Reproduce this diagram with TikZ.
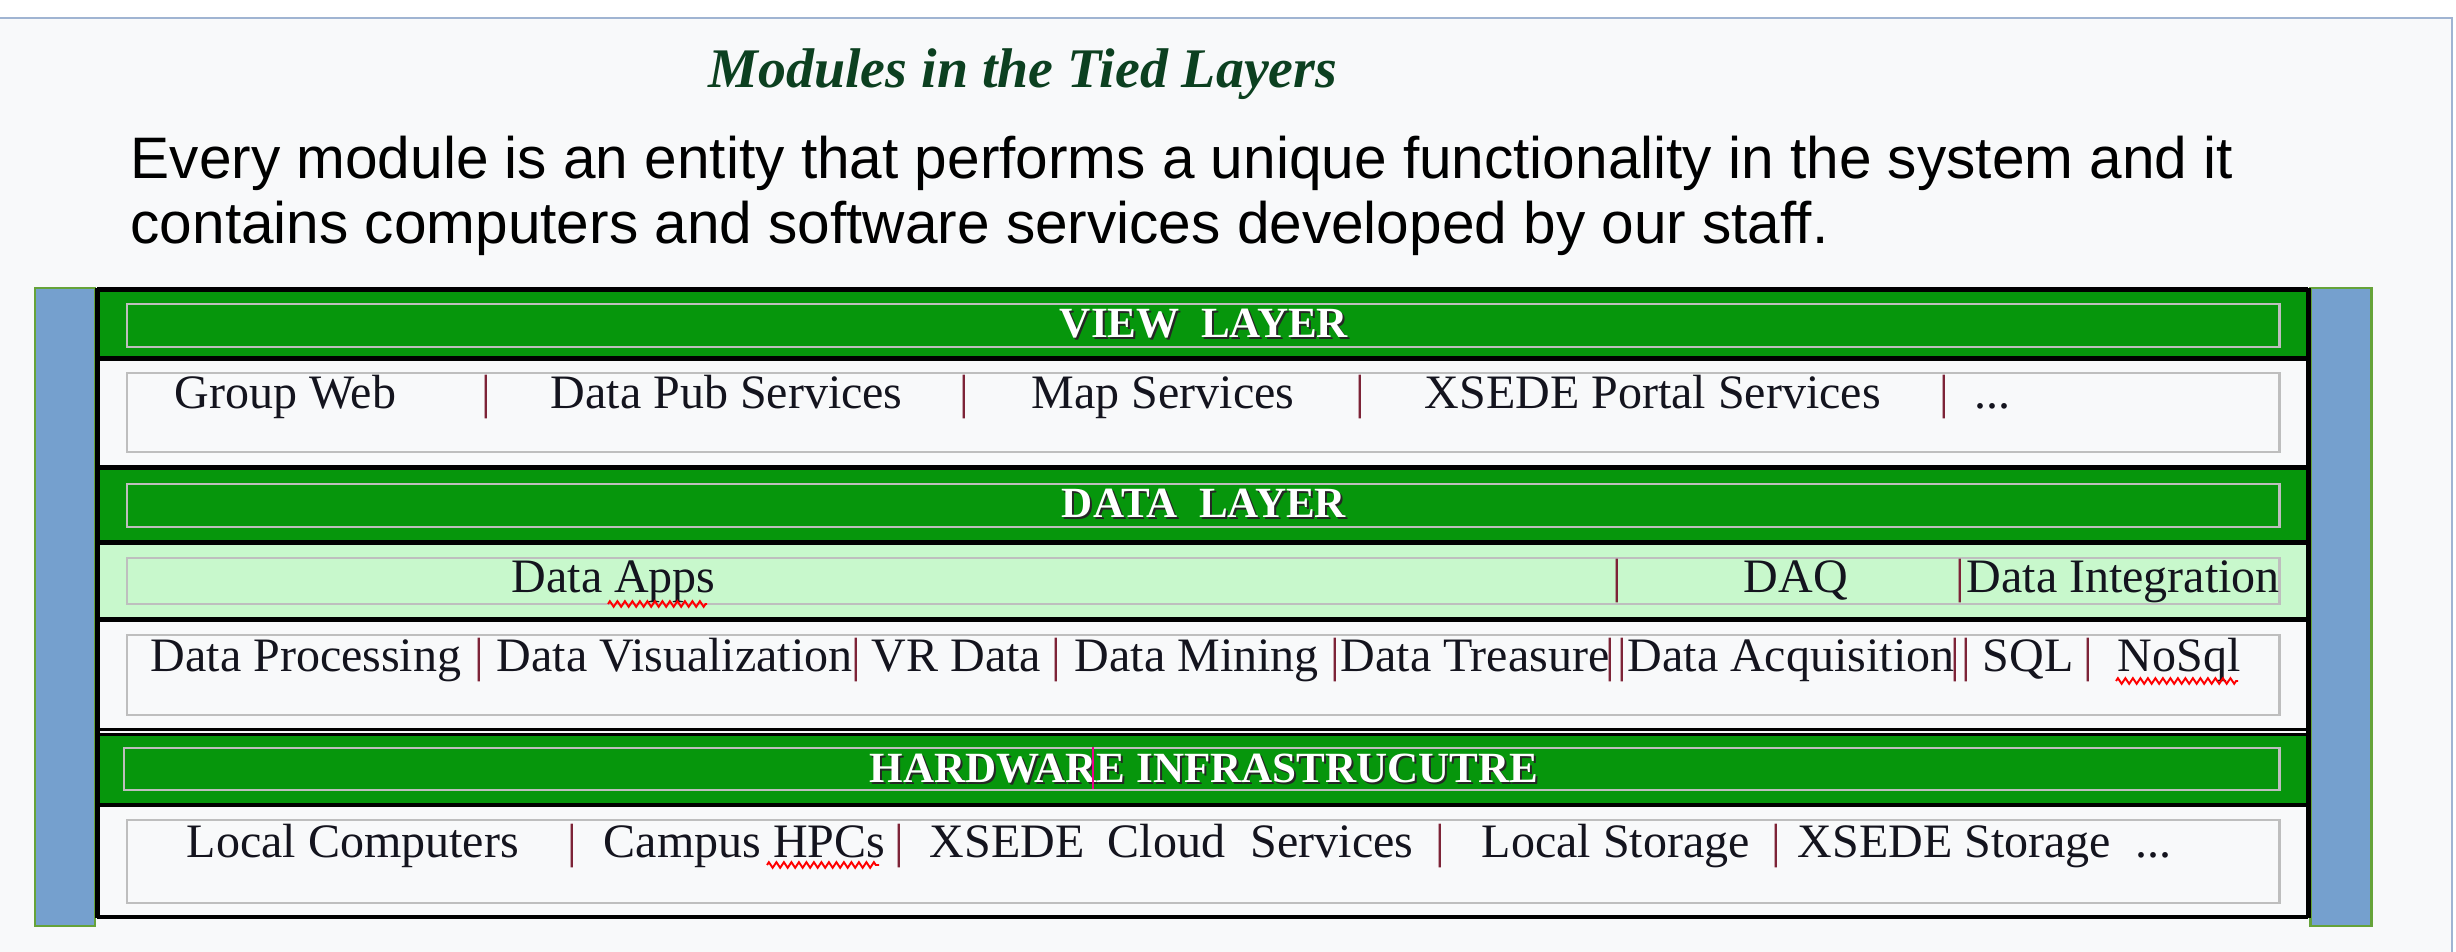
\documentclass[tikz,border=0pt]{standalone}
\usepackage{fontspec}
\setmainfont{Liberation Serif}
\newfontfamily\bodysans{Liberation Sans}
\usetikzlibrary{decorations.pathmorphing}

\definecolor{pagebg}{RGB}{248,249,250}
\definecolor{frameline}{RGB}{160,180,210}
\definecolor{laygreen}{RGB}{6,150,12}
\definecolor{appgreen}{RGB}{200,248,204}
\definecolor{barblue}{RGB}{117,160,206}
\definecolor{baredge}{RGB}{102,163,57}
\definecolor{cellframe}{RGB}{190,190,190}
\definecolor{titlegreen}{RGB}{12,64,32}
\definecolor{sepred}{RGB}{125,35,55}
\definecolor{inkdark}{RGB}{20,20,30}

\tikzset{
  celltext/.style={font=\fontsize{13.65pt}{15pt}\selectfont, text=inkdark, inner sep=0pt, anchor=base west},
  sepbar/.style={font=\fontsize{13.65pt}{15pt}\selectfont, text=sepred, inner sep=0pt, anchor=base},
  hdrtext/.style={font=\bfseries\fontsize{12.25pt}{14pt}\selectfont, text=white, inner sep=0pt, anchor=base},
  hdrshadow/.style={font=\bfseries\fontsize{12.25pt}{14pt}\selectfont, text=black!85, inner sep=0pt, anchor=base},
  cellframe/.style={draw=cellframe, line width=0.85pt},
  blackrule/.style={draw=black, line width=1.4pt},
  sidebar/.style={fill=barblue, draw=baredge, line width=0.85pt},
  spellmark/.style={draw=red, line width=0.55pt, decorate,
    decoration={zigzag, amplitude=0.28mm, segment length=0.75mm}},
}

\begin{document}
\begin{tikzpicture}[x=0.01cm, y=-0.01cm]
\useasboundingbox (0,0) rectangle (2456,952);
\fill[white] (0,0) rectangle (2456,952);
\fill[pagebg] (0,18) rectangle (2452,952);
\draw[frameline, line width=0.6pt] (0,18) -- (2452,18) -- (2452,952);

% heading and introduction
\node[anchor=base west, inner sep=0pt, text=titlegreen,
      font=\bfseries\itshape\fontsize{15.9pt}{18pt}\selectfont] (title) at (708,88) {Modules in the Tied Layers};
\node[anchor=base west, inner sep=0pt, text=black,
      font=\bodysans\fontsize{16.65pt}{18pt}\selectfont] (intro1) at (130,179)
      {Every module is an entity that performs a unique functionality in the system and it};
\node[anchor=base west, inner sep=0pt, text=black,
      font=\bodysans\fontsize{16.65pt}{18pt}\selectfont] (intro2) at (130,244)
      {contains computers and software services developed by our staff.};

% side pillars
\path[sidebar] (35,288) rectangle (95,926);
\path[sidebar] (2310,288) rectangle (2371,926);

% layer bands
\fill[laygreen] (97,290) rectangle (2308,358);
\fill[pagebg]   (97,358) rectangle (2308,467);
\fill[laygreen] (97,467) rectangle (2308,542);
\fill[appgreen] (97,542) rectangle (2308,619);
\fill[pagebg]   (97,619) rectangle (2308,730);
\fill[laygreen] (97,734) rectangle (2308,805);
\fill[pagebg]   (97,805) rectangle (2308,917);

% inner cell frames
\draw[cellframe] (127,304) rectangle (2279,347);
\draw[cellframe] (127,373) rectangle (2279,452);
\draw[cellframe] (127,484) rectangle (2279,527);
\draw[cellframe] (127,558) rectangle (2279,604);
\draw[cellframe] (127,635) rectangle (2279,715);
\draw[cellframe] (124,748) rectangle (2279,790);
\draw[cellframe] (127,820) rectangle (2279,903);

% black rules between the bands
\draw[blackrule] (97,289.5) -- (2308,289.5);
\draw[blackrule] (97,358.5) -- (2308,358.5);
\draw[blackrule] (97,467.5) -- (2308,467.5);
\draw[blackrule] (97,542.5) -- (2308,542.5);
\draw[blackrule] (97,619.5) -- (2308,619.5);
\draw[draw=black, line width=0.9pt] (97,729.5) -- (2308,729.5);
\draw[draw=black, line width=0.9pt] (97,734.5) -- (2308,734.5);
\draw[blackrule] (97,805) -- (2308,805);
\draw[blackrule] (97,917) -- (2308,917);
\draw[blackrule] (97.5,288) -- (97.5,918);
\draw[blackrule] (2308.5,288) -- (2308.5,918);

% layer headings
\node[hdrshadow] (viewS) at (1206,340) {VIEW\ \ LAYER};
\node[hdrtext]   (view)  at (1204,338) {VIEW\ \ LAYER};
\node[hdrshadow] (dataS) at (1206,520) {DATA\ \ LAYER};
\node[hdrtext]   (data)  at (1204,518) {DATA\ \ LAYER};
\node[hdrshadow] (hwS)   at (1206,785) {HARDWARE INFRASTRUCUTRE};
\node[hdrtext]   (hw)    at (1204,783) {HARDWARE INFRASTRUCUTRE};
\draw[magenta, line width=0.6pt] (1093,747) -- (1093,789);

% view layer modules
\node[celltext] (v1) at (174,409) {Group Web};
\node[sepbar]   (vs1) at (486,409) {|};
\node[celltext] (v2) at (550,409) {Data Pub Services};
\node[sepbar]   (vs2) at (964,409) {|};
\node[celltext] (v3) at (1031,409) {Map Services};
\node[sepbar]   (vs3) at (1360,409) {|};
\node[celltext] (v4) at (1424,409) {XSEDE Portal Services};
\node[sepbar]   (vs4) at (1944,409) {|};
\node[celltext] (v5) at (1974,409) {...};

% data applications
\node[celltext] (a1) at (511,593) {Data Apps};
\node[sepbar]   (as1) at (1617,593) {|};
\node[celltext] (a2) at (1743,593) {DAQ};
\node[sepbar]   (as2) at (1960,593) {|};
\node[celltext] (a3) at (1966,593) {Data Integration};
\draw[spellmark] (608,604) -- (707,604);

% data services
\node[celltext] (d1) at (150,672) {Data Processing};
\node[sepbar]   (ds1) at (479,672) {|};
\node[celltext] (d2) at (496,672) {Data Visualization};
\node[sepbar]   (ds2) at (856,672) {|};
\node[celltext] (d3) at (871,672) {VR Data};
\node[sepbar]   (ds3) at (1056,672) {|};
\node[celltext] (d4) at (1074,672) {Data Mining};
\node[sepbar]   (ds4) at (1335,672) {|};
\node[celltext] (d5) at (1340,672) {Data Treasure};
\node[sepbar]   (ds5) at (1610,672) {|};
\node[sepbar]   (ds6) at (1622,672) {|};
\node[celltext] (d6) at (1627,672) {Data Acquisition};
\node[sepbar]   (ds7) at (1955,672) {|};
\node[sepbar]   (ds8) at (1966,672) {|};
\node[celltext] (d7) at (1982,672) {SQL};
\node[sepbar]   (ds9) at (2088,672) {|};
\node[celltext] (d8) at (2117,672) {NoSql};
\draw[spellmark] (2116,681) -- (2238,681);

% hardware
\node[celltext] (h1) at (186,857) {Local Computers};
\node[sepbar]   (hs1) at (572,857) {|};
\node[celltext] (h2) at (603,857) {Campus HPCs};
\node[sepbar]   (hs2) at (899,857) {|};
\node[celltext] (h3a) at (929,857) {XSEDE};
\node[celltext] (h3b) at (1107,857) {Cloud};
\node[celltext] (h3c) at (1250,857) {Services};
\node[sepbar]   (hs3) at (1440,857) {|};
\node[celltext] (h4) at (1481,857) {Local Storage};
\node[sepbar]   (hs4) at (1776,857) {|};
\node[celltext] (h5) at (1797,857) {XSEDE Storage};
\node[celltext] (h6) at (2135,857) {...};
\draw[spellmark] (767,865) -- (879,865);
\end{tikzpicture}
\end{document}
